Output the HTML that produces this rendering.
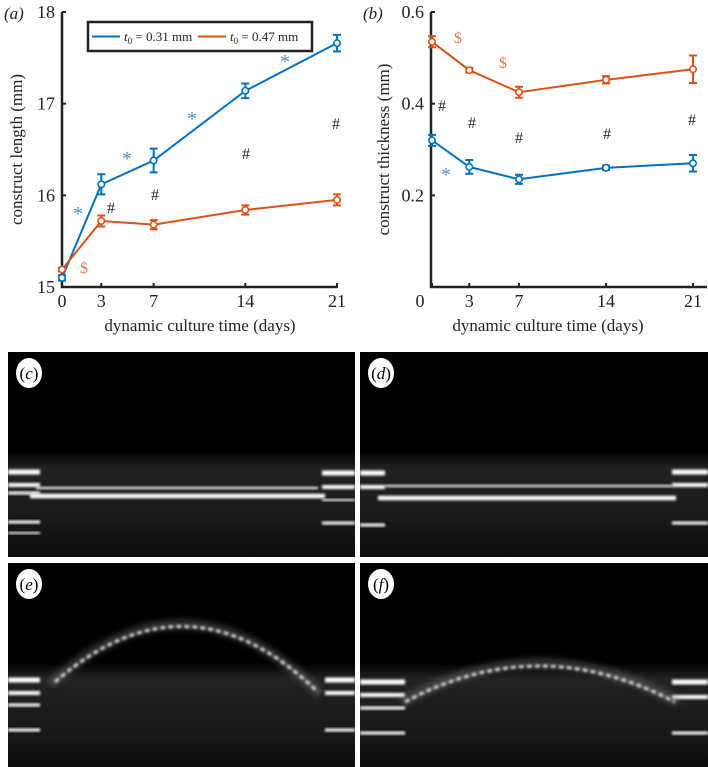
<!DOCTYPE html>
<html><head><meta charset="utf-8"><style>
body{margin:0;background:#fff;}
svg{display:block;font-family:"Liberation Serif",serif;}
</style></head><body>
<svg id="fig" width="708" height="767" viewBox="0 0 708 767">
<defs>
<filter id="bl" x="-5%" y="-50%" width="110%" height="200%"><feGaussianBlur stdDeviation="1.2"/></filter>
<filter id="bl2" x="-5%" y="-50%" width="110%" height="200%"><feGaussianBlur stdDeviation="3"/></filter>
<linearGradient id="haze" x1="0" y1="0" x2="0" y2="1"><stop offset="0" stop-color="#000"/><stop offset="0.15" stop-color="#222"/><stop offset="0.6" stop-color="#1a1a1a"/><stop offset="1" stop-color="#0d0d0d"/></linearGradient>
</defs>
<g id="chartA"></g>
<g id="chartB"></g>
<g id="imgs"></g>
</svg>
<script>
const days = [0, 3, 7, 14, 21];
const lenBlue = [15.1, 16.12, 16.38, 17.14, 17.66];
const lenBlueErr = [0.03, 0.11, 0.13, 0.08, 0.09];
const lenOrange = [15.19, 15.72, 15.68, 15.84, 15.95];
const lenOrangeErr = [0.02, 0.06, 0.05, 0.05, 0.06];
const thkOrange = [0.535, 0.473, 0.425, 0.452, 0.475];
const thkOrangeErr = [0.012, 0.005, 0.012, 0.008, 0.03];
const thkBlue = [0.32, 0.262, 0.235, 0.26, 0.27];
const thkBlueErr = [0.012, 0.015, 0.01, 0.005, 0.018];
const lenTicks = [15, 16, 17, 18];
const thkTicks = [0.2, 0.4, 0.6];
const xTicks = [0, 3, 7, 14, 21];

const NS = "http://www.w3.org/2000/svg";
const BLUE = "#0072BD", ORANGE = "#D95319";
function mk(parent, tag, attrs, text){
  const e = document.createElementNS(NS, tag);
  for (const k in attrs) e.setAttribute(k, attrs[k]);
  if (text !== undefined) e.textContent = text;
  parent.appendChild(e); return e;
}
function series(g, xs, ys, errs, xf, yf, color, name){
  const sg = mk(g, "g", {});
  
  
  let d = "";
  xs.forEach((x,i)=>{ d += (i?"L":"M") + xf(x) + " " + yf(ys[i]); });
  mk(sg, "path", {d:d, fill:"none", stroke:color, "stroke-width":2});
  xs.forEach((x,i)=>{
    const cx = xf(x), y1 = yf(ys[i]+errs[i]), y2 = yf(ys[i]-errs[i]);
    const eb = mk(sg, "path", {d:`M${cx} ${y1}V${y2}M${cx-4} ${y1}H${cx+4}M${cx-4} ${y2}H${cx+4}`, stroke:color, "stroke-width":2, fill:"none"});
    
    
    const c = mk(sg, "circle", {cx:cx, cy:yf(ys[i]), r:3.2, fill:"#fff", stroke:color, "stroke-width":1.6});
    
    
  });
}
function axes(g, x0, x1, yTop, yBot, yf, yt, ytFmt, xf, xLabX, ytitle, ytitleX, xtitleX, panel, panelX){
  mk(g, "path", {d:`M${x0} ${yTop}V${yBot}H${x1}`, fill:"none", stroke:"#222", "stroke-width":2.5});
  yt.forEach(v=>{
    const y = yf(v);
    mk(g, "path", {d:`M${x0} ${y}H${x0+4}`, stroke:"#222", "stroke-width":2});
    const t = mk(g, "text", {x:x0-7, y:y+6, "text-anchor":"end", "font-size":18, fill:"#222"}, ytFmt(v));
    
    
  });
  xTicks.forEach((v,i)=>{
    const x = xf(v);
    mk(g, "path", {d:`M${x} ${yBot}V${yBot-4}`, stroke:"#222", "stroke-width":2});
    const t = mk(g, "text", {x:xLabX ? xLabX(v) : x, y:yBot+20, "text-anchor":"middle", "font-size":18, fill:"#222"}, String(v));
    
    
  });
  const yt2 = mk(g, "text", {x:0, y:0, transform:`translate(${ytitleX},${(yTop+yBot)/2}) rotate(-90)`, "text-anchor":"middle", "font-size":17, fill:"#222"}, ytitle);
  
  
  const xt = mk(g, "text", {x:xtitleX, y:331, "text-anchor":"middle", "font-size":17, fill:"#222"}, "dynamic culture time (days)");
  
  
  const p = mk(g, "text", {x:panelX, y:19, "font-size":17, "font-style":"italic", fill:"#222"}, panel);
  
  
}
function annot(g, x, y, s, color, name){
  const t = mk(g, "text", {x:x, y:y, "text-anchor":"middle", "font-size":s==="*"?20:16, fill:color}, s);
  
  
}

// Chart A
const gA = document.getElementById("chartA");
const xA = d => 62 + d*(337-62)/21;
const yA = v => 287 - (v-15)*(287-12)/3;
axes(gA, 62, 338, 12, 287, yA, lenTicks, v=>String(v), xA, null, "construct length (mm)", 22, 200, "(a)", 4);
series(gA, days, lenBlue, lenBlueErr, xA, yA, BLUE, "series-t0-0.31");
series(gA, days, lenOrange, lenOrangeErr, xA, yA, ORANGE, "series-t0-0.47");
[[78,220],[127,165],[192,125],[285,68]].forEach(p=>annot(gA,p[0],p[1],"*","#4f8dcc","significance-star"));
annot(gA, 84, 273, "$", "#e07b4c", "significance-dollar");
[[111,213],[155,200],[246,159],[336,129]].forEach(p=>annot(gA,p[0],p[1],"#","#222","significance-hash"));
// legend
const lg = mk(gA, "g", {});


mk(lg, "rect", {x:88, y:22, width:224, height:29, fill:"#fff", stroke:"#222", "stroke-width":2.5});
mk(lg, "path", {d:"M92 36.5H120", stroke:BLUE, "stroke-width":2});
mk(lg, "path", {d:"M198 36.5H226", stroke:ORANGE, "stroke-width":2});
const l1 = mk(lg, "text", {x:124, y:41, "font-size":13, fill:"#222"});


l1.innerHTML = '<tspan font-style="italic">t</tspan><tspan font-size="9" dy="3">0</tspan><tspan dy="-3"> = 0.31 mm</tspan>';
const l2 = mk(lg, "text", {x:230, y:41, "font-size":13, fill:"#222"});


l2.innerHTML = '<tspan font-style="italic">t</tspan><tspan font-size="9" dy="3">0</tspan><tspan dy="-3"> = 0.47 mm</tspan>';

// Chart B
const gB = document.getElementById("chartB");
const xB = d => 432 + d*(693-432)/21;
const yB = v => 287 - v*(287-12)/0.6;
axes(gB, 431, 707, 12, 287, yB, thkTicks, v=>v.toFixed(1), xB, v=> v===0 ? 420 : xB(v), "construct thickness (mm)", 389, 548, "(b)", 363);
series(gB, days, thkOrange, thkOrangeErr, xB, yB, ORANGE, "series-t0-0.47");
series(gB, days, thkBlue, thkBlueErr, xB, yB, BLUE, "series-t0-0.31");
annot(gB, 458, 43, "$", "#e07b4c", "significance-dollar");
annot(gB, 503, 68, "$", "#e07b4c", "significance-dollar");
[[442,111],[472,128],[519,143],[607,139],[692,125]].forEach(p=>annot(gB,p[0],p[1],"#","#222","significance-hash"));
annot(gB, 446, 181, "*", "#4f8dcc", "significance-star");

// Images
const gI = document.getElementById("imgs");
const panels = [
  {x:8,y:352,w:347,h:205,lab:"c"},{x:360,y:352,w:348,h:205,lab:"d"},
  {x:8,y:563,w:347,h:204,lab:"e"},{x:360,y:563,w:348,h:204,lab:"f"}];
panels.forEach((p,i)=>{
  const g = mk(gI, "g", {});
  
  
  mk(g, "rect", {x:p.x, y:p.y, width:p.w, height:p.h, fill:"#000"});
  mk(g, "rect", {x:p.x, y:p.y+100, width:p.w, height:p.h-100, fill:"url(#haze)"});
  panels[i].g = g;
});
function bar(g, x1, x2, y, w, op){
  mk(g, "rect", {x:x1, y:y-w/2, width:x2-x1, height:w, fill:"#fff", opacity:op||1, filter:"url(#bl)"});
}
const [gc, gd, ge, gf] = panels.map(p=>p.g);
// c
[[472,5],[485,4],[493,3],[522,3],[533,2]].forEach(b=>bar(gc,8,40,b[0],b[1]));
[[473,5],[487,4],[500,2],[523,3]].forEach(b=>bar(gc,322,355,b[0],b[1]));
bar(gc, 36, 318, 488, 2.5, 0.9);
bar(gc, 30, 325, 496, 4.5);
// d
[[473,5],[487,4],[525,3]].forEach(b=>bar(gd,360,385,b[0],b[1]));
[[472,5],[485,4],[523,3]].forEach(b=>bar(gd,672,708,b[0],b[1]));
bar(gd, 385, 672, 486, 2.5, 0.85);
bar(gd, 378, 676, 498, 4.5);
// e
[[680,5],[693,4],[705,3],[730,3]].forEach(b=>bar(ge,8,40,b[0],b[1]));
[[680,5],[693,4],[730,3]].forEach(b=>bar(ge,325,355,b[0],b[1]));
mk(ge, "path", {d:"M50 684 Q 188 560 320 694", fill:"none", stroke:"#888", "stroke-width":10, opacity:0.35, filter:"url(#bl2)"});
mk(ge, "path", {d:"M55 682 Q 188 566 318 692", fill:"none", stroke:"#ddd", "stroke-width":3, "stroke-dasharray":"5 3", filter:"url(#bl)"});
// f
[[682,5],[695,4],[708,3],[733,3]].forEach(b=>bar(gf,360,405,b[0],b[1]));
[[682,5],[697,4],[733,3]].forEach(b=>bar(gf,672,708,b[0],b[1]));
mk(gf, "path", {d:"M402 702 Q 538 624 678 702", fill:"none", stroke:"#888", "stroke-width":10, opacity:0.35, filter:"url(#bl2)"});
mk(gf, "path", {d:"M405 702 Q 538 630 675 702", fill:"none", stroke:"#ddd", "stroke-width":3, "stroke-dasharray":"5 3", filter:"url(#bl)"});
// labels
panels.forEach(p=>{
  const lg2 = mk(p.g, "g", {});
  
  
  mk(lg2, "ellipse", {cx:p.x+21, cy:p.y+21, rx:13, ry:15, fill:"#fff"});
  mk(lg2, "text", {x:p.x+21, y:p.y+27, "text-anchor":"middle", "font-size":17, fill:"#000"}).innerHTML = '(<tspan font-style="italic">' + p.lab + '</tspan>)';
});
</script>
</body></html>
